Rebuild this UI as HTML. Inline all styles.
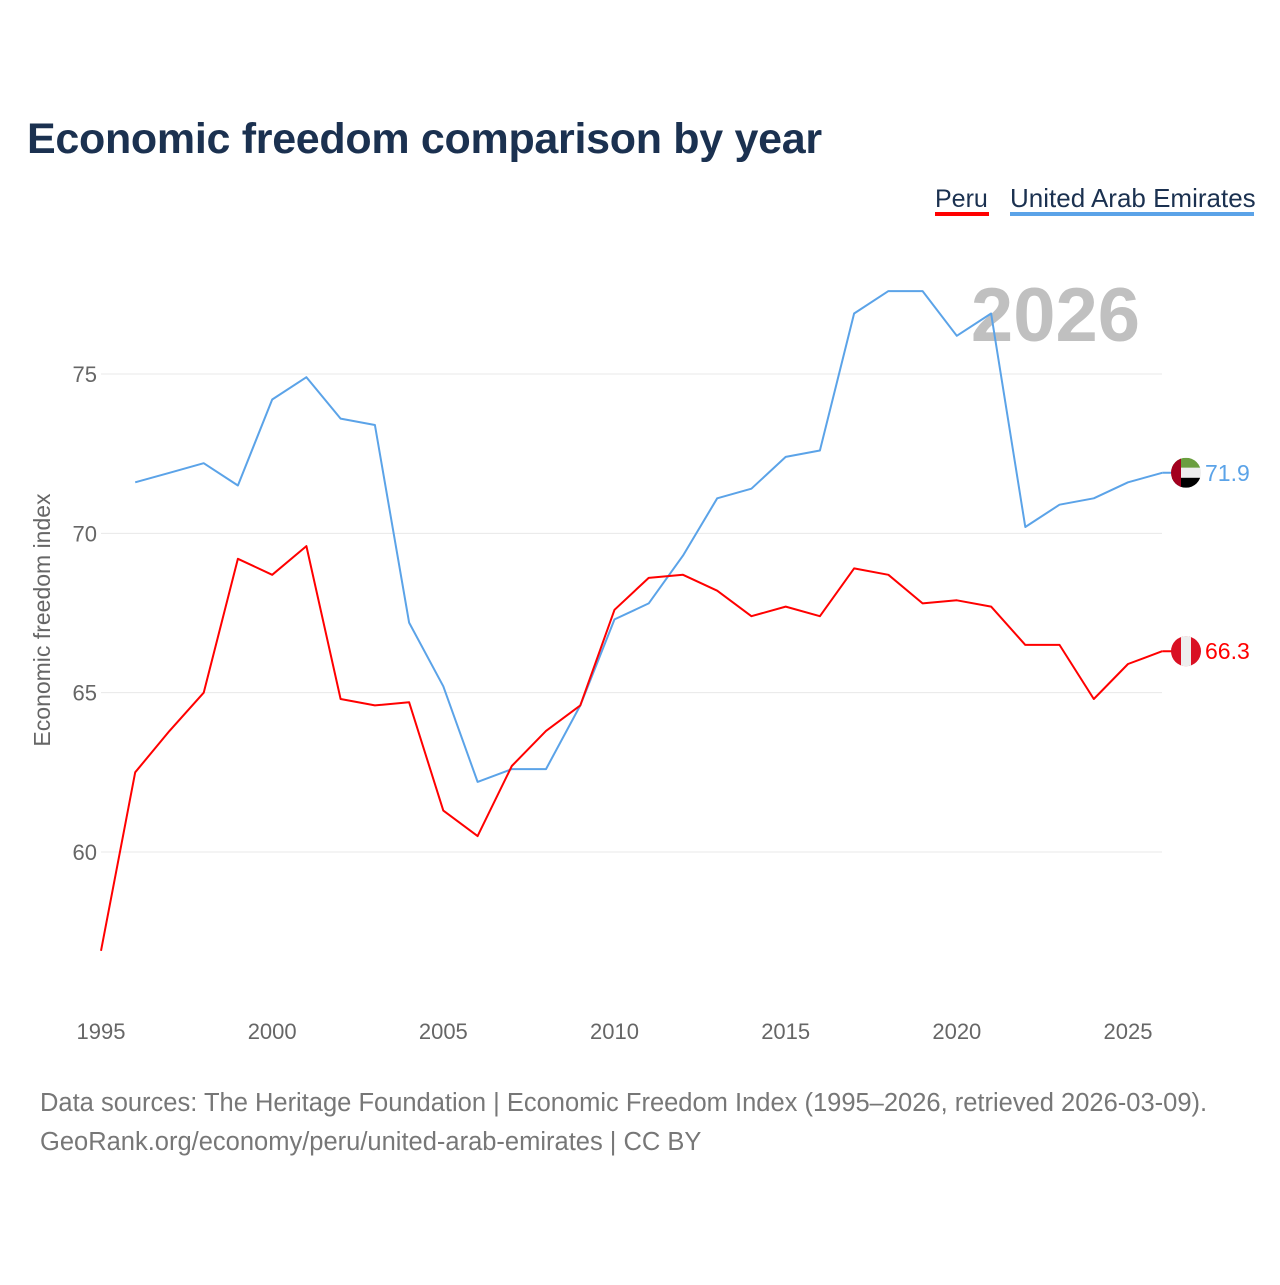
<!DOCTYPE html>
<html><head><meta charset="utf-8"><style>
body{margin:0;background:#fff;font-family:"Liberation Sans",sans-serif;}
svg text{font-family:"Liberation Sans",sans-serif;}
</style></head><body>
<svg width="1280" height="1280" xmlns="http://www.w3.org/2000/svg" id="chart">
<text x="27" y="153" font-size="43" font-weight="bold" fill="#1b3150" letter-spacing="-0.3">Economic freedom comparison by year</text>
<g>
<text x="935" y="207" font-size="25" fill="#1b3150">Peru</text>
<rect x="935" y="212" width="54" height="4" fill="#ff0000"/>
<text x="1010" y="207" font-size="26" fill="#1b3150">United Arab Emirates</text>
<rect x="1010" y="212" width="244" height="4" fill="#5ba3e8"/>
</g>
<text x="1140" y="341" font-size="76" font-weight="bold" fill="#c0c0c0" text-anchor="end">2026</text>
<text transform="translate(50,620) rotate(-90)" font-size="23" fill="#666" text-anchor="middle">Economic freedom index</text>
<g id="grid"></g><g id="xt"></g><g id="lines"></g><g id="ends"></g>
<text x="40" y="1111" font-size="25.5" fill="#777">Data sources: The Heritage Foundation | Economic Freedom Index (1995–2026, retrieved 2026-03-09).</text>
<text x="40" y="1150" font-size="25.5" fill="#777">GeoRank.org/economy/peru/united-arab-emirates | CC BY</text>
</svg>
<script>
const years=[1995,1996,1997,1998,1999,2000,2001,2002,2003,2004,2005,2006,2007,2008,2009,2010,2011,2012,2013,2014,2015,2016,2017,2018,2019,2020,2021,2022,2023,2024,2025,2026];
const peru=[56.9,62.5,63.8,65.0,69.2,68.7,69.6,64.8,64.6,64.7,61.3,60.5,62.7,63.8,64.6,67.6,68.6,68.7,68.2,67.4,67.7,67.4,68.9,68.7,67.8,67.9,67.7,66.5,66.5,64.8,65.9,66.3];
const uae=[null,71.6,71.9,72.2,71.5,74.2,74.9,73.6,73.4,67.2,65.2,62.2,62.6,62.6,64.6,67.3,67.8,69.3,71.1,71.4,72.4,72.6,76.9,77.6,77.6,76.2,76.9,70.2,70.9,71.1,71.6,71.9];
const yTicks=[60,65,70,75];
const xTicks=[1995,2000,2005,2010,2015,2020,2025];
const NS="http://www.w3.org/2000/svg";
const X=y=>101+(y-1995)*(1128-101)/30;
const Y=v=>852-(v-60)*(852-374)/15;
function mk(t,a,p){const e=document.createElementNS(NS,t);for(const k in a)e.setAttribute(k,a[k]);document.getElementById(p).appendChild(e);return e;}
yTicks.forEach(v=>{
 const l=mk('line',{x1:101,x2:1162,y1:Y(v),y2:Y(v),stroke:'#e8e8e8','stroke-width':1},'grid');
 
 
 const t=mk('text',{x:97,y:Y(v)+8,'font-size':22,fill:'#666','text-anchor':'end'},'grid');t.textContent=v;
 
 
});
xTicks.forEach(v=>{
 const t=mk('text',{x:X(v),y:1039,'font-size':22,fill:'#666','text-anchor':'middle'},'xt');t.textContent=v;
 
 
});
function line(vals,col,name){
 let d='';vals.forEach((v,i)=>{if(v==null)return;d+=(d?'L':'M')+X(years[i]).toFixed(1)+','+Y(v).toFixed(1);});
 const p=mk('path',{d:d,fill:'none',stroke:col,'stroke-width':2,'stroke-linejoin':'round'},'lines');
 
 
}
line(uae,'#5ba3e8','uae-line');line(peru,'#ff0000','peru-line');
function end(vals,col,name,flag){
 const v=vals[vals.length-1],cx=1186,cy=Y(v);
 const g=mk('g',{},'ends');
 
 
 mk('line',{x1:X(2026),x2:cx,y1:cy,y2:cy,stroke:col,'stroke-width':2},'ends');
 const cid='c'+name;
 const cp=mk('clipPath',{id:cid},'ends');const c=document.createElementNS(NS,'circle');c.setAttribute('cx',cx);c.setAttribute('cy',cy);c.setAttribute('r',15);cp.appendChild(c);
 const fg=mk('g',{'clip-path':'url(#'+cid+')'},'ends');
 
 
 flag.forEach(r=>{const e=document.createElementNS(NS,'rect');for(const k in r)e.setAttribute(k,r[k]);fg.appendChild(e);});
 const t=mk('text',{x:1205,y:cy+8,'font-size':23,fill:col},'ends');t.textContent=v.toFixed(1);
 
 
}
let cu=Y(uae[uae.length-1]),cpu=Y(peru[peru.length-1]);
end(uae,'#5ba3e8','uae',[{x:1171,y:cu-15,width:30,height:10,fill:'#6a9e3f'},{x:1171,y:cu-5,width:30,height:10,fill:'#eee'},{x:1171,y:cu+5,width:30,height:10,fill:'#000'},{x:1171,y:cu-15,width:10,height:30,fill:'#a3001e'}]);
end(peru,'#ff0000','peru',[{x:1171,y:cpu-15,width:30,height:30,fill:'#d91023'},{x:1181,y:cpu-15,width:10,height:30,fill:'#eee'}]);
</script>
</body></html>
